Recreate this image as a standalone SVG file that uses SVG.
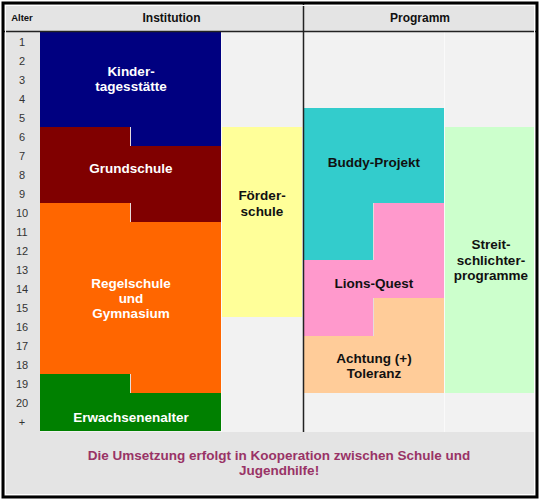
<svg xmlns="http://www.w3.org/2000/svg" width="540" height="501" viewBox="0 0 540 501">
<style>
.lbl{font-family:"Liberation Sans",Arial,sans-serif;font-weight:bold;font-size:13.5px;text-anchor:middle}
.w{fill:#ffffff}
.k{fill:#111111}
.hdr{font-family:"Liberation Sans",Arial,sans-serif;font-weight:bold;font-size:12px;text-anchor:middle;fill:#111}
.age{font-family:"Liberation Sans",Arial,sans-serif;font-size:11px;text-anchor:middle;fill:#333}
.sep{stroke:#e6dcdc;stroke-width:1}
</style>
<rect x="0" y="0" width="540" height="501" fill="#ffffff"/>
<rect x="3" y="3" width="534" height="494" fill="#e4e4e4"/>
<!-- body background -->
<rect x="40" y="32" width="495" height="400" fill="#f2f2f2"/>
<rect x="5" y="32" width="35" height="400" fill="#e4e4e4"/>
<g id="lines">
<line x1="221.5" y1="32" x2="221.5" y2="432" stroke="#fafafa" stroke-width="1"/>
<line x1="444.5" y1="32" x2="444.5" y2="432" stroke="#fafafa" stroke-width="1"/>
</g>
<!-- header -->
<g id="header">
<text x="22" y="21" font-family="'Liberation Sans',Arial,sans-serif" font-weight="bold" font-size="9.5" text-anchor="middle" fill="#111">Alter</text>
<text class="hdr" x="171.5" y="21.5">Institution</text>
<text class="hdr" x="420" y="21.5">Programm</text>
</g>
<g id="ages">
<text class="age" x="22" y="45.5">1</text>
<text class="age" x="22" y="64.5">2</text>
<text class="age" x="22" y="83.5">3</text>
<text class="age" x="22" y="102.5">4</text>
<text class="age" x="22" y="121.5">5</text>
<text class="age" x="22" y="140.5">6</text>
<text class="age" x="22" y="159.5">7</text>
<text class="age" x="22" y="178.5">8</text>
<text class="age" x="22" y="197.5">9</text>
<text class="age" x="22" y="216.5">10</text>
<text class="age" x="22" y="235.5">11</text>
<text class="age" x="22" y="254.5">12</text>
<text class="age" x="22" y="273.5">13</text>
<text class="age" x="22" y="292.5">14</text>
<text class="age" x="22" y="311.5">15</text>
<text class="age" x="22" y="330.5">16</text>
<text class="age" x="22" y="349.5">17</text>
<text class="age" x="22" y="368.5">18</text>
<text class="age" x="22" y="387.5">19</text>
<text class="age" x="22" y="406.5">20</text>
<text class="age" x="22" y="425.5">+</text>
</g>
<g id="kita">
<path d="M40,32 H221 V146 H131 V127 H40 Z" fill="#000080"/>
<text class="lbl w" x="131" y="75.5">Kinder-</text>
<text class="lbl w" x="131" y="91">tagesstätte</text>
</g>
<g id="grundschule">
<path d="M40,127 H131 V146 H221 V222 H131 V203 H40 Z" fill="#800000"/>
<line class="sep" x1="130.5" y1="127" x2="130.5" y2="146"/>
<text class="lbl w" x="131" y="173">Grundschule</text>
</g>
<g id="regelschule">
<path d="M40,203 H131 V222 H221 V393 H131 V374 H40 Z" fill="#ff6600"/>
<line class="sep" x1="130.5" y1="203" x2="130.5" y2="222"/>
<text class="lbl w" x="131" y="288">Regelschule</text>
<text class="lbl w" x="131" y="303">und</text>
<text class="lbl w" x="131" y="318">Gymnasium</text>
</g>
<g id="erwachsenenalter">
<path d="M40,374 H131 V393 H221 V431 H40 Z" fill="#008000"/>
<line class="sep" x1="130.5" y1="374" x2="130.5" y2="393"/>
<text class="lbl w" x="131" y="422">Erwachsenenalter</text>
</g>
<g id="foerderschule">
<rect x="222" y="127" width="80" height="190" fill="#ffff99"/>
<text class="lbl k" x="262" y="199.5">Förder-</text>
<text class="lbl k" x="262" y="215.5">schule</text>
</g>
<g id="buddy">
<path d="M304,108 H444 V203 H374 V260 H304 Z" fill="#33cccc"/>
<text class="lbl k" x="374" y="167">Buddy-Projekt</text>
</g>
<g id="lions">
<path d="M374,203 H444 V298 H374 V336 H304 V260 H374 Z" fill="#ff99cc"/>
<line class="sep" x1="373.5" y1="203" x2="373.5" y2="260"/>
<text class="lbl k" x="374" y="288">Lions-Quest</text>
</g>
<g id="achtung">
<path d="M374,298 H444 V393 H304 V336 H374 Z" fill="#ffcc99"/>
<line class="sep" x1="373.5" y1="298" x2="373.5" y2="336"/>
<text class="lbl k" x="374" y="362.5">Achtung (+)</text>
<text class="lbl k" x="374" y="378">Toleranz</text>
</g>
<g id="streitschlichter">
<rect x="445" y="127" width="90" height="266" fill="#ccffcc"/>
<text class="lbl k" x="491" y="249">Streit-</text>
<text class="lbl k" x="491" y="264.5">schlichter-</text>
<text class="lbl k" x="491" y="280">programme</text>
</g>
<g id="frame">
<line x1="4" y1="31.5" x2="536" y2="31.5" stroke="#222" stroke-width="1.5"/>
<line x1="303.5" y1="4" x2="303.5" y2="432" stroke="#222" stroke-width="1.5"/>
<rect x="5.5" y="5.5" width="529" height="489" fill="none" stroke="#ffffff" stroke-width="1"/>
<rect x="3" y="3" width="534" height="494" fill="none" stroke="#000" stroke-width="3"/>
</g>
<g id="note">
<text class="lbl" x="279" y="460" fill="#993366">Die Umsetzung erfolgt in Kooperation zwischen Schule und</text>
<text class="lbl" x="279" y="475" fill="#993366">Jugendhilfe!</text>
</g>
</svg>
